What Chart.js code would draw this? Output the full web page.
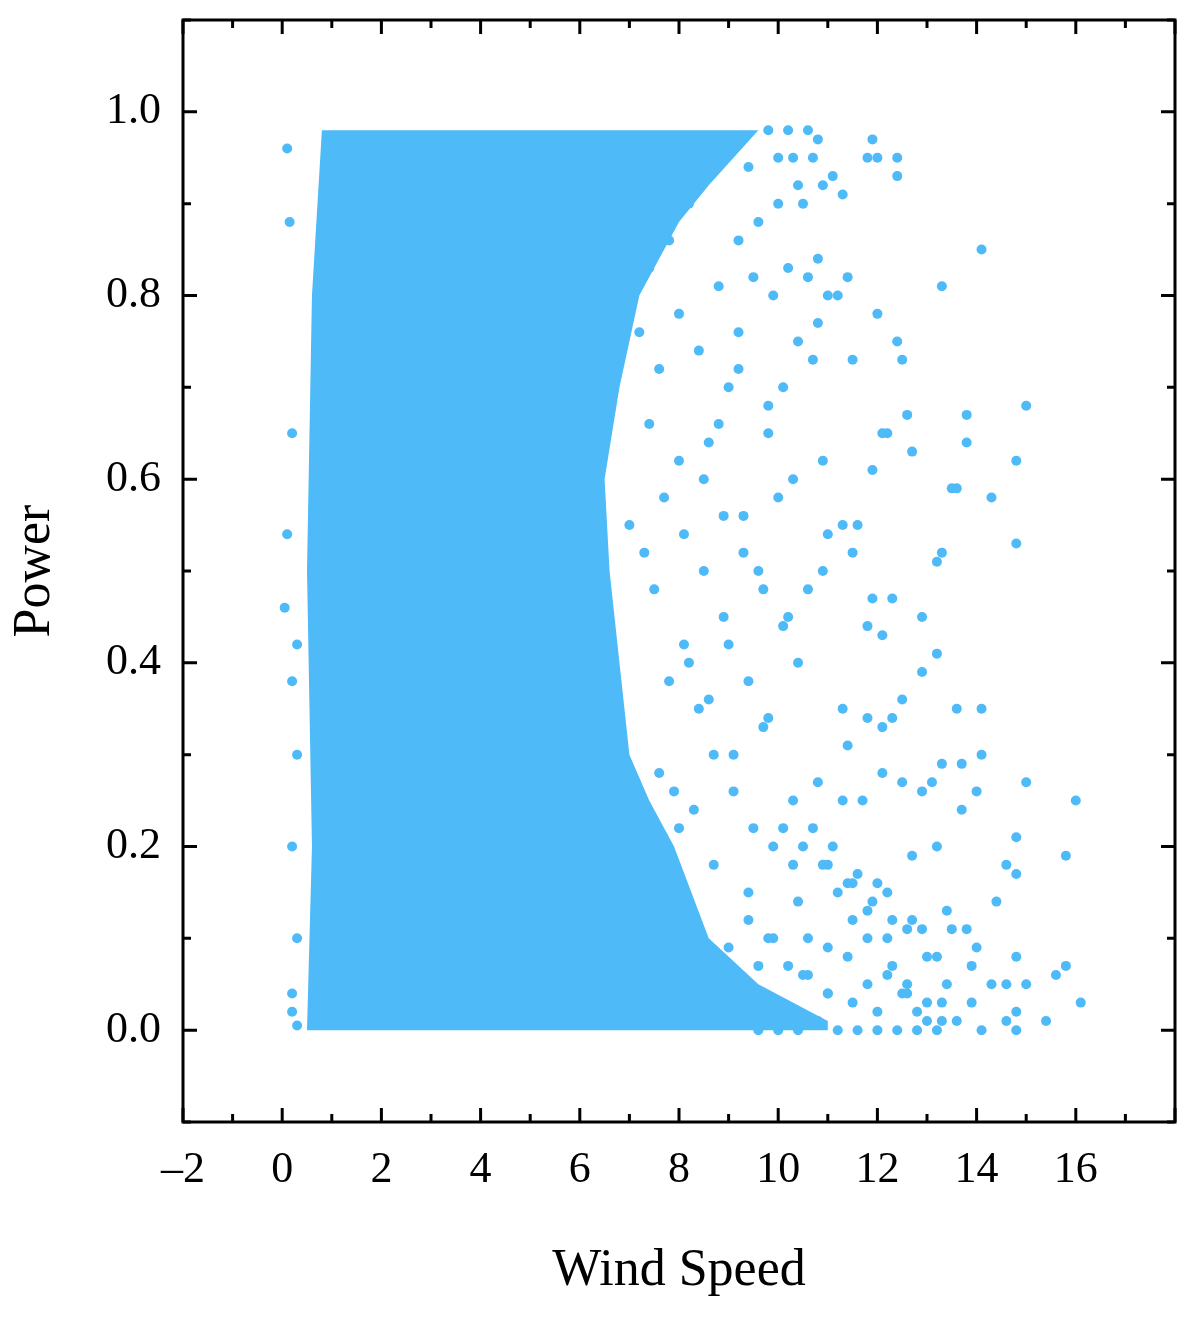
<!DOCTYPE html>
<html>
<head>
<meta charset="utf-8">
<script src="https://cdn.jsdelivr.net/npm/chart.js@4/dist/chart.umd.min.js"></script>
<style>
  body { margin: 0; background: #fff; }
  #wrap { width: 1201px; height: 1321px; }
</style>
</head>
<body>
<div id="wrap"><canvas id="chart"></canvas></div>
<script>
// dense (solid) region outline: [wind speed, power]
const denseX = [0.5, 0.6, 0.5, 0.6, 0.8, 9.6, 8.6, 8.0, 7.2, 6.8, 6.5, 6.6, 6.8, 7.0, 7.4, 7.9, 8.6, 9.6, 11.0, 11.0];
const denseY = [0.0, 0.2, 0.5, 0.8, 0.98, 0.98, 0.92, 0.88, 0.8, 0.7, 0.6, 0.5, 0.4, 0.3, 0.25, 0.2, 0.1, 0.05, 0.01, 0.0];

// scattered points outside the dense block
const outX = [14.1,13.3,15,13.8,13.8,14.8,13.5,13.6,14.3,14.8,13.3,13.2,11.9,12.4,12.4,11.8,12,11.1,11.4,12,12.4,12.5,11.5,11,11.2,10.8,10.7,12.6,12.1,12.2,12.7,11.9,10.9,11.3,11.6,11.5,11,12.3,11.9,11.8,12.1,12.9,13.2,12.9,12.5,12.3,12.1,11.8,11.3,11.4,13.6,14.1,14.1,13.7,13.3,12.9,12.5,13.1,14,15,16,13.7,14.8,13.2,12.7,14.6,15.8,14.8,14.4,13.4,12.9,12.7,13.5,13.8,14,13.2,14.8,13.9,14.6,15.6,15.8,15,16.1,15.4,14.8,14.6,14.8,14.3,13.9,14.1,13.6,13.3,12.8,12.6,12.3,11.8,11.5,11.2,11.6,12,12.2,11,10.5,10.3,10.8,11.3,11.7,12.1,10.4,10.2,10.6,10.9,10,10.3,9.8,10.1,10.4,9.9,10.2,10.6,10.8,10.5,10.9,11.3,10.7,10.3,0.1,0.15,0.2,0.1,0.05,0.3,0.2,0.3,0.2,0.3,0.2,0.2,0.3,
  9.5,9.2,9.0,8.8,8.5,9.3,9.6,8.9,8.1,7.8,7.5,8.4,9.1,9.7,10.1,9.4,8.7,8.0,7.7,9.9,10.6,11.0,9.6,8.3,
  9.8,10.2,10.6,10.8,10.0,9.4,9.0,8.6,8.2,7.8,7.4,7.2,7.6,8.0,8.4,8.8,9.2,9.6,10.0,10.4,9.8,9.2,8.6,8.0,7.4,7.0,7.3,7.7,8.1,8.5,8.9,9.3,9.7,10.1,8.2,8.6,9.0,9.4,9.8,7.6,7.9,8.3,8.7,9.1,9.5,9.9,10.3,10.7,11.1,11.5,11.9,12.3,10.4,10.9,11.4,11.8,12.2,12.6,13.0,9.0,9.4,9.8,10.2,10.6,11.0,11.4,11.8,12.2,12.6,13.0,13.4,10.0,10.5,11.0,11.5,12.0,12.5,13.0,13.3,8.4,8.8,9.2,9.6,10.0,10.4,10.8,11.2,11.6,12.0,12.4,12.8,13.2];
const outY = [0.85,0.81,0.68,0.67,0.64,0.62,0.59,0.59,0.58,0.53,0.52,0.51,0.97,0.95,0.93,0.95,0.95,0.93,0.82,0.78,0.75,0.73,0.73,0.8,0.8,0.77,0.73,0.67,0.65,0.65,0.63,0.61,0.62,0.55,0.55,0.52,0.54,0.47,0.47,0.44,0.43,0.45,0.41,0.39,0.36,0.34,0.33,0.34,0.35,0.31,0.35,0.35,0.3,0.29,0.29,0.26,0.27,0.27,0.26,0.27,0.25,0.24,0.21,0.2,0.19,0.18,0.19,0.17,0.14,0.13,0.11,0.12,0.11,0.11,0.09,0.08,0.08,0.07,0.05,0.06,0.07,0.05,0.03,0.01,0.02,0.01,0,0.05,0.03,0,0.01,0.03,0.02,0.05,0.07,0.1,0.12,0.15,0.17,0.16,0.15,0.18,0.2,0.25,0.27,0.25,0.25,0.28,0.4,0.45,0.48,0.5,0.58,0.6,0.65,0.7,0.75,0.8,0.83,0.82,0.84,0.9,0.92,0.91,0.95,0.95,0.96,0.88,0.65,0.54,0.46,0.42,0.38,0.3,0.2,0.1,0.04,0.02,0.005,
  0.82,0.76,0.7,0.66,0.6,0.56,0.5,0.45,0.42,0.38,0.48,0.35,0.3,0.33,0.22,0.15,0.18,0.22,0.12,0.1,0.1,0.04,0.07,0.02,
  0.98,0.98,0.98,0.97,0.95,0.94,0.96,0.93,0.9,0.86,0.83,0.76,0.72,0.78,0.74,0.81,0.86,0.88,0.9,0.92,0.68,0.72,0.64,0.62,0.66,0.55,0.52,0.58,0.54,0.5,0.56,0.52,0.48,0.44,0.4,0.36,0.42,0.38,0.34,0.28,0.26,0.24,0.3,0.26,0.22,0.2,0.18,0.22,0.2,0.16,0.14,0.12,0.14,0.18,0.16,0.13,0.1,0.11,0.08,0.09,0.12,0.1,0.07,0.06,0.09,0.08,0.05,0.06,0.04,0.03,0.05,0.02,0.06,0.04,0.03,0.02,0.04,0.01,0.01,0.02,0.02,0.01,0.0,0.0,0.0,0.01,0.0,0.0,0.0,0.0,0.0,0.0,0.0,0.0,0.0,0.0,0.0];

const xTicks = [-2, 0, 2, 4, 6, 8, 10, 12, 14, 16];
const yTicks = [0.0, 0.2, 0.4, 0.6, 0.8, 1.0];
const blue = '#4fbaf8';

const points = outX.map((x, i) => ({ x: x, y: outY[i] }));

const framePlugin = {
  id: 'frame',
  beforeDatasetsDraw(chart) {
    const { ctx, scales: { x, y } } = chart;
    ctx.save();
    ctx.fillStyle = blue;
    ctx.beginPath();
    denseX.forEach((v, i) => {
      const px = x.getPixelForValue(v), py = y.getPixelForValue(denseY[i]);
      if (i === 0) ctx.moveTo(px, py); else ctx.lineTo(px, py);
    });
    ctx.closePath();
    ctx.fill();
    ctx.restore();
  },
  afterDraw(chart) {
    const { ctx, chartArea: a, scales: { x, y } } = chart;
    ctx.save();
    ctx.strokeStyle = '#000';
    ctx.lineWidth = 3;
    ctx.strokeRect(a.left, a.top, a.right - a.left, a.bottom - a.top);
    for (let v = -2; v <= 18; v += 1) {
      const px = x.getPixelForValue(v);
      const len = v % 2 === 0 ? 14 : 8;
      ctx.beginPath();
      ctx.moveTo(px, a.bottom); ctx.lineTo(px, a.bottom - len);
      ctx.moveTo(px, a.top); ctx.lineTo(px, a.top + len);
      ctx.stroke();
    }
    for (let k = -1; k <= 11; k++) {
      const py = y.getPixelForValue(k / 10);
      const len = k % 2 === 0 ? 14 : 8;
      ctx.beginPath();
      ctx.moveTo(a.left, py); ctx.lineTo(a.left + len, py);
      ctx.moveTo(a.right, py); ctx.lineTo(a.right - len, py);
      ctx.stroke();
    }
    ctx.restore();
  }
};

new Chart(document.getElementById('chart'), {
  type: 'scatter',
  data: {
    datasets: [{
      data: points,
      backgroundColor: blue,
      borderWidth: 0,
      pointRadius: 5
    }]
  },
  options: {
    responsive: true,
    maintainAspectRatio: false,
    animation: false,
    layout: { padding: { top: 20, right: 26, left: 0, bottom: 14 } },
    plugins: { legend: { display: false }, tooltip: { enabled: false } },
    scales: {
      x: {
        type: 'linear', min: -2, max: 18,
        afterBuildTicks: s => { s.ticks = xTicks.map(v => ({ value: v })); },
        afterFit: s => { s.height = 185; s.paddingLeft = 0; s.paddingRight = 0; },
        grid: { display: false },
        border: { display: false },
        ticks: {
          color: '#000', padding: 14,
          font: { family: 'Liberation Serif', size: 44 },
          callback: v => (v < 0 ? '\u2013' + Math.abs(v) : String(v))
        },
        title: {
          display: true, text: 'Wind Speed', color: '#000',
          font: { family: 'Liberation Serif', size: 52 }, padding: { top: 10 }
        }
      },
      y: {
        type: 'linear', min: -0.1, max: 1.1,
        afterBuildTicks: s => { s.ticks = yTicks.map(v => ({ value: v })); },
        afterFit: s => { s.width = 183; s.paddingTop = 0; s.paddingBottom = 0; },
        grid: { display: false },
        border: { display: false },
        ticks: {
          color: '#000', padding: 14,
          font: { family: 'Liberation Serif', size: 44 },
          callback: v => v.toFixed(1)
        },
        title: {
          display: true, text: 'Power', color: '#000',
          font: { family: 'Liberation Serif', size: 52 }, padding: { bottom: 4 }
        }
      }
    }
  },
  plugins: [framePlugin]
});
</script>
</body>
</html>
